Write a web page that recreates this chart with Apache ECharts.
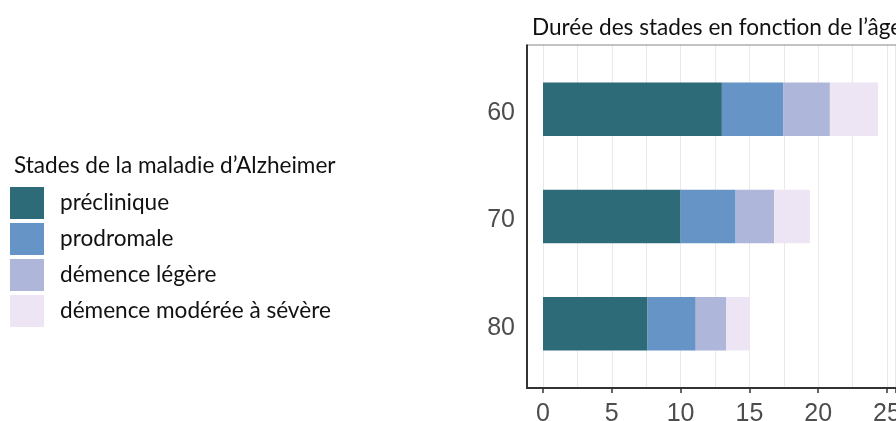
<!DOCTYPE html>
<html><head><meta charset="utf-8">
<script src="https://cdn.jsdelivr.net/npm/echarts@6/dist/echarts.min.js"></script>
<style>html,body{margin:0;padding:0;background:#fff}#c{width:896px;height:421px}</style>
</head><body><div id="c"></div>
<script>
const ages = ['60', '70', '80'];
const stageNames = ['préclinique', 'prodromale', 'démence légère', 'démence modérée à sévère'];
const preclinique = [13, 10, 7.6];
const prodromale = [4.45, 4, 3.5];
const demenceLegere = [3.4, 2.8, 2.2];
const demenceModeree = [3.5, 2.6, 1.75];
const xTicks = [0, 5, 10, 15, 20, 25];
const colors = ['#2D6B78', '#6794C6', '#AEB6D9', '#EEE5F4'];

const chart = echarts.init(document.getElementById('c'), null, {renderer: 'canvas'});
const stageData = [preclinique, prodromale, demenceLegere, demenceModeree];
const pxPerUnit = 13.76;
const xMax = 25.6;
const gridWidth = pxPerUnit * xMax;

chart.setOption({
  animation: false,
  backgroundColor: '#fff',
  title: [
    {text: 'Durée des stades en fonction de l’âge', left: 527, top: 11,
     textStyle: {fontFamily: 'Lato', fontSize: 22.6, fontWeight: 'normal', color: '#111'}},
    {text: 'Stades de la maladie d’Alzheimer', left: 9, top: 149,
     textStyle: {fontFamily: 'Lato', fontSize: 22.6, fontWeight: 'normal', color: '#111'}}
  ],
  legend: {
    data: stageNames, orient: 'vertical', left: 10, top: 187, padding: 0,
    itemWidth: 34, itemHeight: 32, itemGap: 4, icon: 'rect',
    textStyle: {fontFamily: 'Lato', fontSize: 22.6, color: '#111', padding: [3, 0, 0, 11]},
    selectedMode: false
  },
  grid: [
    {left: 543, top: 55.7, width: gridWidth, height: 321.6, outerBoundsMode: 'none', containLabel: false},
    {left: 543, top: 45, width: gridWidth, height: 343, outerBoundsMode: 'none', containLabel: false}
  ],
  xAxis: [
    {type: 'value', gridIndex: 0, min: 0, max: xMax, interval: 5, offset: 10.7,
     axisLine: {show: false}, splitLine: {show: false},
     axisTick: {show: true, length: 5, lineStyle: {color: '#333', width: 1.5}},
     axisLabel: {margin: 14, fontFamily: 'Liberation Sans', fontSize: 25, color: '#4D4D4D',
       customValues: xTicks}},
    {type: 'value', gridIndex: 1, min: 0, max: xMax, interval: 2.5,
     axisLine: {show: false}, axisTick: {show: false}, axisLabel: {show: false},
     splitLine: {show: true, lineStyle: {color: '#E9E9E9', width: 1}}}
  ],
  yAxis: [
    {type: 'category', gridIndex: 0, data: ages, inverse: true,
     axisLine: {show: false}, axisTick: {show: false}, splitLine: {show: false},
     axisLabel: {margin: 28, fontFamily: 'Liberation Sans', fontSize: 25, color: '#4D4D4D',
       verticalAlign: 'top', lineHeight: 8}},
    {type: 'value', gridIndex: 1, show: false}
  ],
  graphic: [
    {type: 'line', shape: {x1: 527, y1: 45, x2: 900, y2: 45}, style: {stroke: '#888', lineWidth: 1}, z: 10},
    {type: 'line', shape: {x1: 527, y1: 44.5, x2: 527, y2: 388.5}, style: {stroke: '#333', lineWidth: 2}, z: 10},
    {type: 'line', shape: {x1: 526, y1: 388, x2: 900, y2: 388}, style: {stroke: '#333', lineWidth: 2}, z: 10}
  ],
  series: stageNames.map((name, i) => ({
    name: name, type: 'bar', stack: 'total', xAxisIndex: 0, yAxisIndex: 0,
    barWidth: '50%', data: stageData[i], itemStyle: {color: colors[i]}
  }))
});
</script></body></html>
